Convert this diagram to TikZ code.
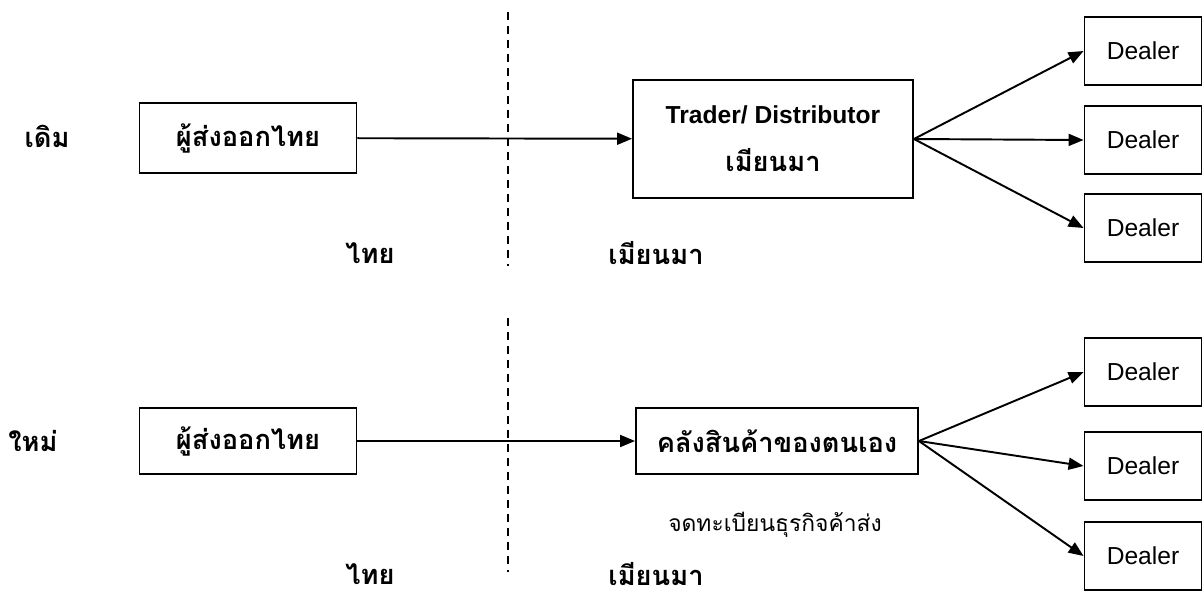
\documentclass[tikz,border=0pt]{standalone}
\usepackage{fontspec}
\setmainfont{Liberation Sans}
\newfontfamily\thaifont[Script=Thai]{Loma}
\newcommand{\thaibig}{\thaifont\fontsize{15.5}{18}\selectfont}
\usetikzlibrary{arrows.meta, positioning}
\tikzstyle{box} = [rectangle, draw=black, line width=1.1pt, text centered, inner sep=0pt, font=\bfseries\fontsize{14}{17}\selectfont]
\tikzstyle{dealer} = [rectangle, draw=black, line width=1.1pt, minimum width=2.34cm, minimum height=1.36cm, inner sep=0pt, font=\fontsize{14}{17}\selectfont]
\tikzstyle{label} = [inner sep=0pt, font=\bfseries\thaibig]
\tikzstyle{arrow} = [line width=1.1pt, -{Triangle[length=0.3cm, width=0.24cm]}]
\tikzstyle{border} = [line width=0.7pt, dash pattern=on 0.16cm off 0.12cm]

\begin{document}
\begin{tikzpicture}[x=0.02cm, y=-0.02cm]
    \useasboundingbox (0,0) rectangle (1204,596);

    % top: old way
    \node (old) [label] at (47,136) {เดิม};
    \node (exp1) [box, minimum width=4.34cm, minimum height=1.4cm] at (248,138) {\thaibig ผู้ส่งออกไทย};
    \node (trader) [box, minimum width=5.6cm, minimum height=2.36cm, align=center] at (773,139) {Trader/ Distributor\\[0.36cm]\thaibig เมียนมา};
    \node (d1a) [dealer] at (1143,51) {Dealer};
    \node (d1b) [dealer] at (1143,140) {Dealer};
    \node (d1c) [dealer] at (1143,228) {Dealer};
    \node (th1) [label] at (370,253) {ไทย};
    \node (mm1) [label] at (656,253) {เมียนมา};
    \coordinate (b1top) at (508,12);
    \coordinate (b1bot) at (508,266);

    \draw[border] (b1top) -- (b1bot);
    \draw[arrow] (exp1) -- (trader);
    \draw[arrow] (trader.east) -- (d1a.west);
    \draw[arrow] (trader.east) -- (d1b.west);
    \draw[arrow] (trader.east) -- (d1c.west);

    % bottom: new way
    \node (new) [label] at (33,441) {ใหม่};
    \node (exp2) [box, minimum width=4.34cm, minimum height=1.32cm] at (248,441) {\thaibig ผู้ส่งออกไทย};
    \node (store) [box, minimum width=5.64cm, minimum height=1.32cm] at (777,441) {\thaibig คลังสินค้าของตนเอง};
    \node (reg) [inner sep=0pt, font=\thaifont\fontsize{13}{15}\selectfont] at (775,525) {จดทะเบียนธุรกิจค้าส่ง};
    \node (d2a) [dealer] at (1143,372) {Dealer};
    \node (d2b) [dealer] at (1143,466) {Dealer};
    \node (d2c) [dealer] at (1143,556) {Dealer};
    \node (th2) [label] at (370,574) {ไทย};
    \node (mm2) [label] at (656,574) {เมียนมา};
    \coordinate (b2top) at (508,318);
    \coordinate (b2bot) at (508,572);

    \draw[border] (b2top) -- (b2bot);
    \draw[arrow] (exp2) -- (store);
    \draw[arrow] (store.east) -- (d2a.west);
    \draw[arrow] (store.east) -- (d2b.west);
    \draw[arrow] (store.east) -- (d2c.west);
\end{tikzpicture}
\end{document}
